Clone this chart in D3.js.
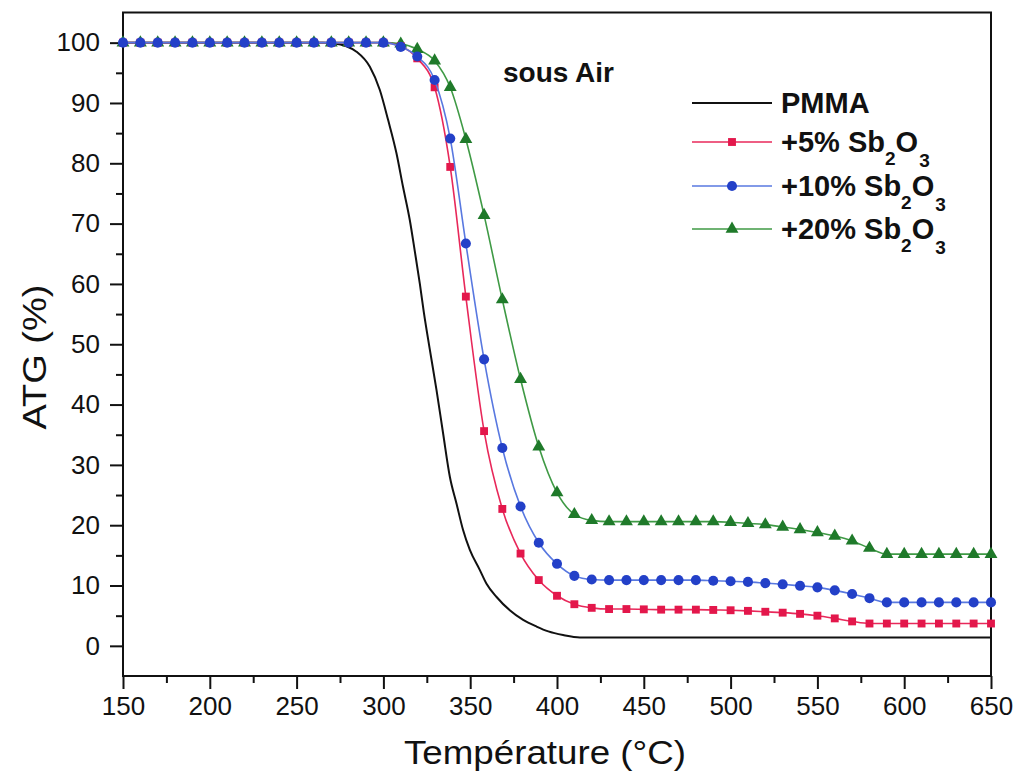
<!DOCTYPE html>
<html>
<head>
<meta charset="utf-8">
<script src="https://cdn.jsdelivr.net/npm/d3@7"></script>
<style>
  html, body { margin: 0; padding: 0; background: #fff; }
  svg { display: block; font-family: "Liberation Sans", Arial, sans-serif; }
</style>
</head>
<body>
<svg id="chart" width="1018" height="776"></svg>
<script>
// ---------------- data ----------------
const temps = [150,160,170,180,190,200,210,220,230,240,250,260,270,280,290,300,310,
  319.5,329.5,338.5,347.5,358,368.5,379,389.5,400,
  410,420,430,440,450,460,470,480,490,500,510,520,530,540,550,560,570,580,590,600,610,620,630,640,650];

const sb5 = [100,100,100,100,100,100,100,100,100,100,100,100,100,100,100,100,99.4,
  97.4,92.6,79.4,57.9,35.6,22.7,15.3,10.9,8.3,
  6.9,6.3,6.1,6.1,6.05,6.0,6.0,6.0,5.95,5.9,5.8,5.65,5.5,5.3,5.0,4.55,4.05,3.7,3.7,3.7,3.7,3.7,3.7,3.7,3.7];

const sb10 = [100,100,100,100,100,100,100,100,100,100,100,100,100,100,100,100,99.3,
  97.7,93.8,84.1,66.7,47.5,32.8,23.1,17.1,13.6,
  11.6,11.0,10.9,10.9,10.9,10.9,10.9,10.9,10.8,10.7,10.6,10.4,10.2,9.95,9.7,9.2,8.6,7.9,7.2,7.2,7.2,7.2,7.2,7.2,7.2];

const sb20 = [100,100,100,100,100,100,100,100,100,100,100,100,100,100,100,100,99.8,
  98.9,97.0,92.6,84.0,71.4,57.4,44.2,33.0,25.4,
  21.8,20.8,20.6,20.6,20.6,20.6,20.6,20.6,20.6,20.5,20.3,20.1,19.7,19.3,18.8,18.2,17.4,16.2,15.2,15.2,15.2,15.2,15.2,15.2,15.2];

const pmmaTemps = [150,200,250,265,271,278.7,284.5,292.2,297.9,302.7,307.5,311.3,315.2,318.1,321.0,323.3,326.7,330.6,334.4,338.3,342.1,345.9,349.8,355.5,359.4,365.2,372.8,380.5,388.2,395,403.5,413.2,450,500,550,600,650];
const pmmaValues = [100,100,100,100,99.9,99.4,98.5,96.0,92.2,87.2,81.7,76.1,70.6,65.4,60.0,55.3,49.2,42.4,35.2,28.0,23.6,19.2,15.9,12.6,10.3,8.1,5.9,4.3,3.2,2.4,1.8,1.4,1.4,1.4,1.4,1.4,1.4];

const xTicks = [150,200,250,300,350,400,450,500,550,600,650];
const xMinor = [175,225,275,325,375,425,475,525,575,625];
const yTicks = [0,10,20,30,40,50,60,70,80,90,100];
const yMinor = [5,15,25,35,45,55,65,75,85,95];

const seriesNames = ["PMMA", "+5%", "+10%", "+20%"];

// ---------------- chart ----------------
const svg = d3.select("#chart");
const x = d3.scaleLinear().domain([150, 650]).range([123, 991]);
const y = d3.scaleLinear().domain([-5, 105]).range([676, 12.5]);

// frame
svg.append("rect")
  .attr("x", x(150)).attr("y", y(105))
  .attr("width", x(650) - x(150)).attr("height", y(-5) - y(105))
  .attr("fill", "none").attr("stroke", "#111").attr("stroke-width", 2);

function styleAxis(g) {
  g.select(".domain").remove();
  g.selectAll(".tick line").attr("stroke", "#111").attr("stroke-width", 2);
}

// x axis
const gx = svg.append("g").attr("transform", `translate(0,${y(-5)})`)
  .call(d3.axisBottom(x).tickValues(xTicks).tickSize(13).tickPadding(8).tickFormat(d3.format("d")));
styleAxis(gx);
gx.selectAll(".tick text").attr("font-size", 26).attr("fill", "#111")
  .attr("font-family", "Liberation Sans, Arial, sans-serif");
const gxm = svg.append("g").attr("transform", `translate(0,${y(-5)})`)
  .call(d3.axisBottom(x).tickValues(xMinor).tickSize(7).tickFormat(""));
styleAxis(gxm);

// y axis
const gy = svg.append("g").attr("transform", `translate(${x(150)},0)`)
  .call(d3.axisLeft(y).tickValues(yTicks).tickSize(13).tickPadding(10).tickFormat(d3.format("d")));
styleAxis(gy);
gy.selectAll(".tick text").attr("font-size", 26).attr("fill", "#111")
  .attr("font-family", "Liberation Sans, Arial, sans-serif");
const gym = svg.append("g").attr("transform", `translate(${x(150)},0)`)
  .call(d3.axisLeft(y).tickValues(yMinor).tickSize(7).tickFormat(""));
styleAxis(gym);

// axis titles
svg.append("text").attr("x", 545).attr("y", 764).attr("text-anchor", "middle")
  .attr("font-size", 33).attr("fill", "#111")
  .attr("textLength", 282).attr("lengthAdjust", "spacingAndGlyphs")
  .text("Température (°C)");
svg.append("text").attr("transform", "translate(46,357) rotate(-90)").attr("text-anchor", "middle")
  .attr("font-size", 33).attr("fill", "#111")
  .attr("textLength", 145).attr("lengthAdjust", "spacingAndGlyphs")
  .text("ATG (%)");

// annotation
svg.append("text").attr("x", 503).attr("y", 82).attr("font-size", 28).attr("font-weight", "bold")
  .attr("fill", "#111").text("sous Air");

// ---------------- series ----------------
const line = d3.line().x(d => x(d[0])).y(d => y(d[1])).curve(d3.curveMonotoneX);

const series = [
  { name: seriesNames[1], values: sb5,  line: "#e8285a", fill: "#e3174b", symbol: d3.symbolSquare,   size: 62 },
  { name: seriesNames[2], values: sb10, line: "#5878e0", fill: "#2340c8", symbol: d3.symbolCircle,   size: 80 },
  { name: seriesNames[3], values: sb20, line: "#3f9a45", fill: "#1f7a2a", symbol: d3.symbolTriangle, size: 72 }
];

// PMMA
svg.append("path").datum(d3.zip(pmmaTemps, pmmaValues))
  .attr("d", line).attr("fill", "none").attr("stroke", "#111").attr("stroke-width", 2);

const order = [2, 0, 1]; // green, red, blue on top
order.forEach(i => {
  const s = series[i];
  const pts = d3.zip(temps, s.values);
  svg.append("path").datum(pts).attr("d", line)
    .attr("fill", "none").attr("stroke", s.line).attr("stroke-width", 1.6);
  svg.append("g").selectAll("path").data(pts).join("path")
    .attr("transform", d => `translate(${x(d[0])},${y(d[1])})`)
    .attr("d", d3.symbol().type(s.symbol).size(s.size))
    .attr("fill", s.fill);
});

// ---------------- legend ----------------
const legRows = [103, 142, 186, 229];
const lg = svg.append("g");
function legendText(yy, prefix, chem) {
  const t = lg.append("text").attr("x", 781).attr("y", yy + 10)
    .attr("font-size", 29).attr("font-weight", "bold").attr("fill", "#111");
  t.append("tspan").text(prefix);
  if (chem) {
    t.append("tspan").text(" Sb");
    t.append("tspan").attr("font-size", 19).attr("dy", 13).text("2");
    t.append("tspan").attr("dy", -13).text("O");
    t.append("tspan").attr("font-size", 19).attr("dy", 15).attr("dx", 1).text("3");
  }
}
lg.append("line").attr("x1", 692).attr("x2", 772).attr("y1", legRows[0]).attr("y2", legRows[0])
  .attr("stroke", "#111").attr("stroke-width", 2);
legendText(legRows[0], seriesNames[0], false);
series.forEach((s, i) => {
  const yy = legRows[i + 1];
  lg.append("line").attr("x1", 692).attr("x2", 772).attr("y1", yy).attr("y2", yy)
    .attr("stroke", s.line).attr("stroke-width", 1.6);
  lg.append("path").attr("transform", `translate(732,${yy})`)
    .attr("d", d3.symbol().type(s.symbol).size(s.size)).attr("fill", s.fill);
  legendText(yy, s.name, true);
});
</script>
</body>
</html>
